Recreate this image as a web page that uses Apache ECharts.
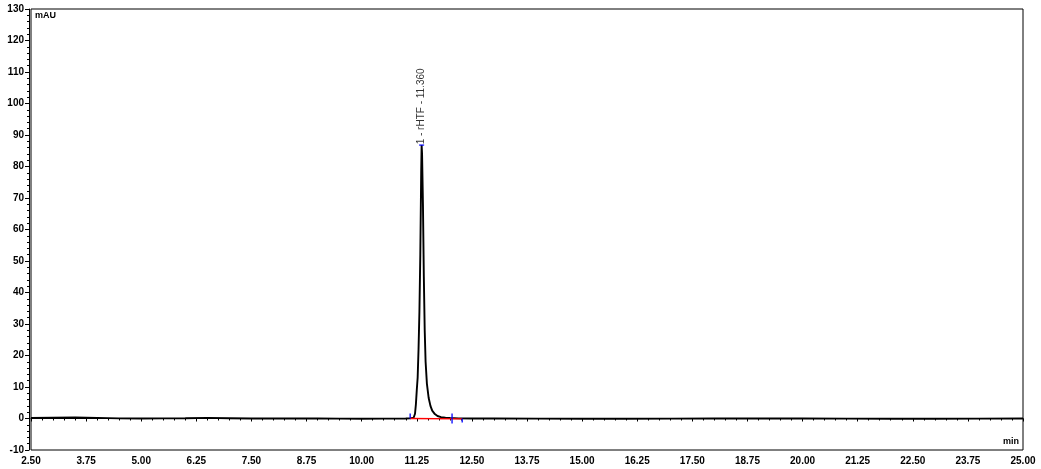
<!DOCTYPE html>
<html>
<head>
<meta charset="utf-8">
<script src="https://cdn.jsdelivr.net/npm/echarts@6/dist/echarts.min.js"></script>
<style>html,body{margin:0;padding:0;background:#fff}#c{width:1041px;height:469px}</style>
</head>
<body>
<div id="c"></div>
<script>
// Chromatogram signal (time in min, signal in mAU)
var times = [2.5, 3.0, 3.5, 4.0, 4.5, 5.0, 5.5, 6.0, 6.5, 7.0, 7.5, 8.0, 8.5, 9.0, 9.5, 10.0, 10.5, 11.0, 11.1,
  11.18, 11.21, 11.23, 11.25, 11.27, 11.29, 11.31, 11.33, 11.35, 11.36, 11.37, 11.39, 11.41, 11.43, 11.45, 11.48,
  11.52, 11.56, 11.60, 11.66, 11.72, 11.80, 11.90, 12.0, 12.2, 12.5, 13.0, 14.0, 15.0, 16.0, 17.0, 18.0, 19.0,
  20.0, 21.0, 22.0, 23.0, 24.0, 25.0];
var signal = [0.2, 0.25, 0.3, 0.2, 0.05, 0.0, 0.05, 0.1, 0.2, 0.1, 0.0, 0.0, 0.0, 0.0, -0.05, -0.1, -0.05, 0.0, 0.05,
  0.3, 1.5, 4.5, 9, 13, 22, 34, 52, 78, 86.8, 84, 68, 45, 28, 18, 11,
  6.5, 4, 2.5, 1.4, 0.8, 0.45, 0.25, 0.15, 0.05, 0.0, 0.0, -0.05, -0.1, -0.1, -0.05, 0.0, 0.0,
  0.0, -0.05, -0.1, -0.1, -0.05, 0.0];
// integration baseline (red) and peak event marks (blue)
var baseStart = [11.10, 0.0];
var baseEnd = [12.28, -0.1];
var markStart = [[11.10, 0.0], [11.10, 1.6]];
var markMid = [[12.05, -1.6], [12.05, 1.6]];
var markEnd = [[12.28, -1.3], [12.28, 0.0]];
var peakTop = [11.36, 86.8];
var peakLabel = '1 - rHTF - 11.360';
// axes
var xMin = 2.5, xMax = 25.0, xStep = 1.25;
var yMin = -10, yMax = 130, yStep = 10;

var chart = echarts.init(document.getElementById('c'), null, {renderer: 'canvas'});
var lineData = times.map(function (t, i) { return [t, signal[i]]; });
var font = 'Arial, "Liberation Sans", sans-serif';

chart.setOption({
  animation: false,
  backgroundColor: '#fff',
  grid: {left: 31, right: 18, top: 9, bottom: 19, show: true, borderColor: '#000', borderWidth: 1, containLabel: false},
  xAxis: {
    type: 'value', min: xMin, max: xMax, interval: xStep, offset: 2,
    axisLine: {show: true, lineStyle: {color: '#000', width: 1}},
    axisTick: {show: true, length: 3, lineStyle: {color: '#000'}},
    minorTick: {show: true, splitNumber: 5, length: 2, lineStyle: {color: '#000'}},
    splitLine: {show: false},
    axisLabel: {formatter: function (v) { return v.toFixed(2); }, margin: 4, showMinLabel: true, showMaxLabel: true,
      color: '#000', fontSize: 10, fontWeight: 'bold', fontFamily: font}
  },
  yAxis: {
    type: 'value', min: yMin, max: yMax, interval: yStep, offset: 2,
    axisLine: {show: true, lineStyle: {color: '#000', width: 1}},
    axisTick: {show: true, length: 4, lineStyle: {color: '#000'}},
    minorTick: {show: true, splitNumber: 5, length: 2, lineStyle: {color: '#000'}},
    splitLine: {show: false},
    axisLabel: {margin: 5, color: '#000', fontSize: 10, fontWeight: 'bold', fontFamily: font}
  },
  graphic: [
    {type: 'text', left: 35, top: 11, style: {text: 'mAU', fill: '#000', font: 'bold 9px ' + font}},
    {type: 'text', right: 22, top: 437, style: {text: 'min', fill: '#000', font: 'bold 9px ' + font}}
  ],
  series: [
    {type: 'line', data: lineData, showSymbol: false, lineStyle: {color: '#000', width: 1.9}, z: 3},
    {type: 'line', data: [baseStart, baseEnd], showSymbol: false, lineStyle: {color: '#ff0000', width: 1.3}, z: 4},
    {type: 'line', data: markStart, showSymbol: false, lineStyle: {color: '#0000ff', width: 1.3}, z: 5},
    {type: 'line', data: markMid, showSymbol: false, lineStyle: {color: '#0000ff', width: 1.3}, z: 5},
    {type: 'line', data: markEnd, showSymbol: false, lineStyle: {color: '#0000ff', width: 1.3}, z: 5},
    {type: 'scatter', data: [peakTop], symbol: 'rect', symbolSize: [5, 1.5], itemStyle: {color: '#0000ff'}, z: 6,
      label: {show: true, formatter: peakLabel, position: 'top', distance: 0, rotate: 90, align: 'left', verticalAlign: 'middle',
        color: '#000', fontSize: 10, fontFamily: font}}
  ]
});
</script>
</body>
</html>
